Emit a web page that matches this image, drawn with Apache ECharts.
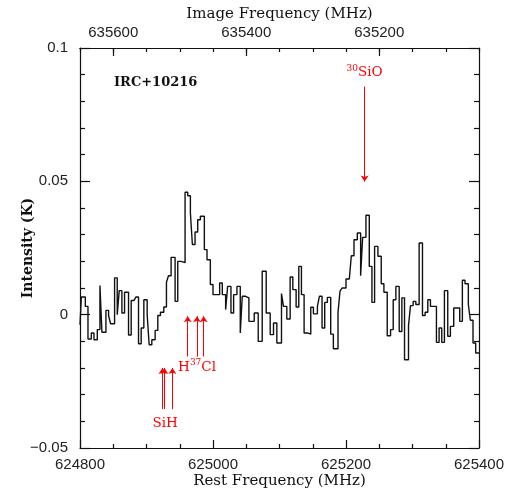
<html>
<head>
<meta charset="utf-8">
<script src="https://cdn.jsdelivr.net/npm/echarts@6/dist/echarts.min.js"></script>
<style>
  html, body { margin: 0; padding: 0; background: #fff; }
  #chart { width: 505px; height: 489px; }
</style>
</head>
<body>
<div id="chart"></div>
<script>
// channel start (rest frequency, MHz) and intensity (mK)
var chanStart = [
  624800, 624802, 624808, 624812, 624817, 624821, 624826, 624830, 624833, 624839,
  624843, 624846, 624852, 624856, 624859, 624863, 624867, 624873, 624877, 624881,
  624884, 624888, 624892, 624896, 624901, 624904, 624908, 624913, 624917, 624921,
  624926, 624930, 624933, 624937, 624943, 624947, 624952, 624958, 624962, 624966,
  624969, 624973, 624977, 624981, 624987, 624991, 624996, 625000, 625005, 625010,
  625014, 625019, 625022, 625027, 625031, 625036, 625041, 625044, 625049, 625054,
  625058, 625062, 625068, 625074, 625080, 625086, 625091, 625096, 625103, 625106,
  625111, 625116, 625120, 625125, 625129, 625133, 625137, 625143, 625147, 625151,
  625157, 625160, 625164, 625168, 625172, 625177, 625181, 625188, 625191, 625194,
  625200, 625205, 625208, 625212, 625217, 625222, 625225, 625230, 625235, 625239,
  625243, 625248, 625253, 625257, 625262, 625267, 625271, 625275, 625280, 625284,
  625288, 625294, 625297, 625301, 625305, 625310, 625315, 625319, 625323, 625327,
  625331, 625336, 625340, 625344, 625348, 625353, 625357, 625362, 625366, 625371,
  625375, 625379, 625384, 625387, 625391, 625395
];
var intensityMK = [
  -3.8, 6.6, 3.1, -9.1, -6.9, -9.4, -5.6, 10.9, -6.6, 1.6,
  -0.4, -3.4, 13.8, 0.0, 9.0, 0.6, 8.4, -7.6, 5.3, 5.6,
  6.6, -10.9, -5.0, 5.6, 0.0, -11.3, -9.4, -5.9, -0.3, 0.9,
  2.9, 12.1, 14.6, 21.5, 5.0, 20.0, 19.5, 45.9, 44.6, 38.1,
  26.3, 31.0, 35.6, 36.9, 24.4, 20.6, 11.3, 7.5, 7.5, 11.9,
  7.5, 1.9, 10.6, 0.6, 7.5, 10.6, -6.9, 6.9, 6.3, -2.5,
  -2.5, 0.6, -10.0, 16.3, 0.6, -7.5, -3.1, -10.6, 7.9, 3.1,
  -1.6, 14.1, 9.4, 2.9, 18.1, 7.5, -6.9, -7.3, 2.8, 0.3,
  3.1, 6.9, -5.0, 4.6, 6.5, -7.3, -12.8, 0.9, 8.8, 10.0,
  13.4, 13.0, 22.1, 28.1, 30.6, 14.6, 29.0, 37.3, 18.1, 4.6,
  25.6, 21.9, 11.6, 8.4, -7.9, -5.6, 5.6, 10.6, -6.3, 6.3,
  -16.9, -4.1, 3.4, 5.0, 3.8, 26.9, -0.3, 0.9, 5.6, 3.1,
  3.1, -10.4, -5.0, -10.4, 9.0, -8.1, -4.4, 2.5, 2.5, -2.5,
  12.9, 11.6, 3.8, -2.1, -10.6, -14.4
];
var bandEnd = 625400;

// image-sideband axis (top): range and labelled values
var imageRange = [635050, 635650];
var imageLabels = [635200, 635400, 635600];

// line identifications: arrow frequencies and arrow tail/tip (K)
var sioFreq = [625228];
var sioArrow = [0.0855, 0.0499];
var h37clFreq = [624962, 624976, 624986];
var h37clArrow = [-0.0157, -0.0006];
var sihFreq = [624924, 624927, 624939];
var sihArrow = [-0.0354, -0.0200];

var labels = [
  { text: '{s|30}{t|SiO}', at: [625228, 0.0911] },
  { text: '{t|H}{s|37}{t|Cl}', at: [624976, -0.0193] },
  { text: '{t|SiH}', at: [624928, -0.0405] }
];

var RED = '#ff0000';
var serif = 'DejaVu Serif';
var sans = 'Liberation Sans';

var spec = chanStart.map(function (f, i) { return [f, intensityMK[i] / 1000]; });
spec.push([bandEnd, intensityMK[intensityMK.length - 1] / 1000]);

function arrows(freqs, ends) {
  return freqs.map(function (f) {
    return [{ coord: [f, ends[0]] }, { coord: [f, ends[1]] }];
  });
}

function plain(v) { return String(v); }

var chart = echarts.init(document.getElementById('chart'));

var tickLine = { color: '#111', width: 1.2 };
var box = { left: 80, right: 26, top: 48, bottom: 41, containLabel: false, outerBoundsMode: 'none' };

chart.setOption({
  animation: false,
  title: {
    text: 'IRC+10216',
    left: 109, top: 71,
    textStyle: { fontFamily: serif, fontWeight: 'bold', fontSize: 13, color: '#111' }
  },
  // second grid on the same box, only to carry the top minor ticks
  grid: [box, box],
  xAxis: [{
    gridIndex: 0, type: 'value', position: 'bottom',
    min: 624800, max: 625400, interval: 200,
    name: 'Rest Frequency (MHz)', nameLocation: 'middle', nameGap: 26, nameMoveOverlap: false,
    nameTextStyle: { fontFamily: serif, fontSize: 15, color: '#111' },
    axisLine: { onZero: false, lineStyle: tickLine },
    axisTick: { inside: true, length: 8, lineStyle: tickLine },
    minorTick: { show: true, splitNumber: 4, length: 4, lineStyle: tickLine },
    axisLabel: { fontFamily: sans, fontSize: 15, color: '#222', margin: 9, showMinLabel: true, showMaxLabel: true, formatter: plain },
    splitLine: { show: false }
  }, {
    gridIndex: 0, type: 'value', position: 'top', inverse: true,
    min: imageRange[0], max: imageRange[1],
    name: 'Image Frequency (MHz)', nameLocation: 'middle', nameGap: 26, nameMoveOverlap: false,
    nameTextStyle: { fontFamily: serif, fontSize: 15, color: '#111' },
    axisLine: { onZero: false, lineStyle: tickLine },
    axisTick: { show: true, inside: true, length: 8, lineStyle: tickLine, customValues: imageLabels },
    axisLabel: { fontFamily: sans, fontSize: 15, color: '#222', margin: 8, customValues: imageLabels, formatter: plain },
    splitLine: { show: false }
  }, {
    gridIndex: 1, type: 'value', position: 'top', inverse: true,
    min: imageRange[0], max: imageRange[1], interval: 50,
    axisLine: { show: true, onZero: false, lineStyle: tickLine },
    axisTick: { show: true, inside: true, length: 4, lineStyle: tickLine },
    axisLabel: { show: false },
    splitLine: { show: false }
  }],
  yAxis: [{
    gridIndex: 0, type: 'value', position: 'left',
    min: -0.05, max: 0.1, interval: 0.05,
    name: 'Intensity (K)', nameLocation: 'middle', nameGap: 45, nameRotate: 90, nameMoveOverlap: false,
    nameTextStyle: { fontFamily: serif, fontWeight: 'bold', fontSize: 14, color: '#111' },
    axisLine: { show: true, onZero: false, lineStyle: tickLine },
    axisTick: { inside: true, length: 10, lineStyle: tickLine },
    minorTick: { show: true, splitNumber: 5, length: 5, lineStyle: tickLine },
    axisLabel: {
      fontFamily: sans, fontSize: 15, color: '#222', margin: 12,
      formatter: function (v) { return String(+v.toFixed(3)).replace('-', '\u2212'); }
    },
    splitLine: { show: false }
  }, {
    gridIndex: 0, type: 'value', position: 'right',
    min: -0.05, max: 0.1, interval: 0.05,
    axisLine: { show: true, onZero: false, lineStyle: tickLine },
    axisTick: { inside: true, length: 10, lineStyle: tickLine },
    minorTick: { show: true, splitNumber: 5, length: 5, lineStyle: tickLine },
    axisLabel: { show: false },
    splitLine: { show: false }
  }, {
    gridIndex: 1, type: 'value', show: false,
    min: -0.05, max: 0.1
  }],
  series: [{
    type: 'line',
    xAxisIndex: 0, yAxisIndex: 0,
    step: 'end',
    showSymbol: false,
    silent: true,
    lineStyle: { color: '#111', width: 1.4 },
    data: spec
  }, {
    type: 'line',
    xAxisIndex: 0, yAxisIndex: 0,
    data: [],
    markLine: {
      silent: true,
      symbol: ['none', 'arrow'],
      symbolSize: 6,
      label: { show: false },
      lineStyle: { color: RED, width: 1, type: 'solid' },
      data: arrows(sioFreq, sioArrow)
        .concat(arrows(h37clFreq, h37clArrow))
        .concat(arrows(sihFreq, sihArrow))
    },
    markPoint: {
      silent: true,
      symbol: 'circle',
      symbolSize: 0,
      label: {
        show: true,
        position: 'inside',
        color: RED,
        rich: {
          t: { fontFamily: serif, fontSize: 13.5, color: RED, lineHeight: 16, verticalAlign: 'bottom' },
          s: { fontFamily: serif, fontSize: 9, color: RED, lineHeight: 16, verticalAlign: 'top' }
        }
      },
      data: labels.map(function (l) {
        return { coord: l.at, label: { formatter: l.text } };
      })
    }
  }]
});
</script>
</body>
</html>
